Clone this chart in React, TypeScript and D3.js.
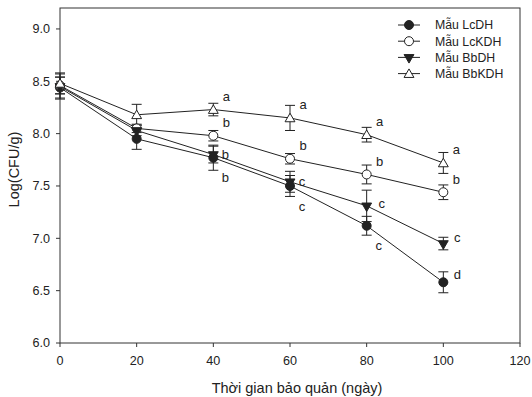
import * as d3 from 'd3'

// storage days
const days = [0, 20, 40, 60, 80, 100]

const seriesNames = ['Mẫu LcDH', 'Mẫu LcKDH', 'Mẫu BbDH', 'Mẫu BbKDH']

const lcDH = [8.44, 7.95, 7.77, 7.5, 7.12, 6.58]
const lcKDH = [8.46, 8.05, 7.98, 7.76, 7.61, 7.44]
const bbDH = [8.45, 8.03, 7.8, 7.54, 7.31, 6.95]
const bbKDH = [8.48, 8.18, 8.23, 8.15, 7.99, 7.72]

const lcDHErr = [0.1, 0.1, 0.12, 0.1, 0.09, 0.1]
const lcKDHErr = [0.08, 0.04, 0.05, 0.05, 0.09, 0.07]
const bbDHErr = [0.12, 0.05, 0.08, 0.1, 0.15, 0.06]
const bbKDHErr = [0.1, 0.1, 0.06, 0.12, 0.07, 0.1]

// significance letters (day 0 and 20 unlabelled)
const lcDHLetters = ['', '', 'b', 'c', 'c', 'd']
const lcKDHLetters = ['', '', 'b', 'b', 'b', 'b']
const bbDHLetters = ['', '', 'b', 'c', 'c', 'c']
const bbKDHLetters = ['', '', 'a', 'a', 'a', 'a']

const xTicks = [0, 20, 40, 60, 80, 100, 120]
const yTicks = [6.0, 6.5, 7.0, 7.5, 8.0, 8.5, 9.0]

const width = 532
const height = 397
const marginTop = 8
const marginRight = 12
const marginBottom = 54
const marginLeft = 60

const font = 'Liberation Sans, Arial, sans-serif'
const ink = '#222'

type Marker = 'filledCircle' | 'openCircle' | 'filledDown' | 'openUp'

const series: {
    name: string
    values: number[]
    errors: number[]
    letters: string[]
    marker: Marker
}[] = [
    { name: seriesNames[0], values: lcDH, errors: lcDHErr, letters: lcDHLetters, marker: 'filledCircle' },
    { name: seriesNames[1], values: lcKDH, errors: lcKDHErr, letters: lcKDHLetters, marker: 'openCircle' },
    { name: seriesNames[2], values: bbDH, errors: bbDHErr, letters: bbDHLetters, marker: 'filledDown' },
    { name: seriesNames[3], values: bbKDH, errors: bbKDHErr, letters: bbKDHLetters, marker: 'openUp' },
]

// letter offsets from the point, per series (below for the lowest curve)
const letterOffset = (si: number, di: number): [number, number] => {
    if (si === 0) return di === 5 ? [14, -8] : [12, 20]
    if (si === 2) return di === 5 ? [14, -6] : di === 4 ? [15, -2] : [12, 0]
    return [13, -13]
}

function MarkerShape({ type, x, y }: { type: Marker; x: number; y: number }) {
    const sym = d3.symbol().size(42)
    if (type === 'filledCircle')
        return <circle cx={x} cy={y} r={4.5} fill={ink} stroke={ink} strokeWidth={1} />
    if (type === 'openCircle')
        return <circle cx={x} cy={y} r={4.5} fill="#fff" stroke={ink} strokeWidth={1} />
    if (type === 'filledDown')
        return (
            <path
                d={sym.type(d3.symbolTriangle)() ?? undefined}
                transform={`translate(${x},${y}) rotate(180)`}
                fill={ink}
                stroke={ink}
            />
        )
    return (
        <path
            d={sym.type(d3.symbolTriangle)() ?? undefined}
            transform={`translate(${x},${y + 1})`}
            fill="#fff"
            stroke={ink}
        />
    )
}

export default function App() {
    const x = d3
        .scaleLinear()
        .domain([0, 120])
        .range([marginLeft, width - marginRight])
    const y = d3
        .scaleLinear()
        .domain([6, 9.2])
        .range([height - marginBottom, marginTop])

    const line = d3
        .line<number>()
        .x((_, i) => x(days[i]))
        .y((d) => y(d))

    const legendX = 398
    const legendY = 25

    return (
        <svg
            width={width}
            height={height}
            style={{ position: 'absolute', left: 0, top: 0, background: '#fff' }}
            fontFamily={font}
        >
            {/* frame */}
            <rect
                x={marginLeft}
                y={marginTop}
                width={width - marginLeft - marginRight}
                height={height - marginTop - marginBottom}
                fill="none"
                stroke="#333"
                strokeWidth={1}
            />

            {/* y ticks */}
            {yTicks.map((t) => (
                <g key={t}>
                    <line x1={marginLeft - 4} x2={marginLeft} y1={y(t)} y2={y(t)} stroke="#333" />
                    <text
                        x={marginLeft - 10}
                        y={y(t)}
                        dy="0.35em"
                        textAnchor="end"
                        fontSize={12.6}
                        fill={ink}
                    >
                        {t.toFixed(1)}
                    </text>
                </g>
            ))}

            {/* x ticks */}
            {xTicks.map((t) => (
                <g key={t}>
                    <line
                        x1={x(t)}
                        x2={x(t)}
                        y1={height - marginBottom}
                        y2={height - marginBottom + 4}
                        stroke="#333"
                    />
                    <text
                        x={x(t)}
                        y={height - marginBottom + 18}
                        dy="0.35em"
                        textAnchor="middle"
                        fontSize={12.6}
                        fill={ink}
                    >
                        {t}
                    </text>
                </g>
            ))}

            <text
                x={297}
                y={height - 9}
                dy="0.35em"
                textAnchor="middle"
                fontSize={14.5}
                fill={ink}
            >
                Thời gian bảo quản (ngày)
            </text>
            <text
                transform={`translate(14,${(marginTop + height - marginBottom) / 2 - 6}) rotate(-90)`}
                dy="0.35em"
                textAnchor="middle"
                fontSize={14.5}
                fill={ink}
            >
                Log(CFU/g)
            </text>

            {/* lines */}
            {series.map((s) => (
                <path key={s.name} d={line(s.values) ?? undefined} fill="none" stroke={ink} strokeWidth={1} />
            ))}

            {/* error bars */}
            {series.map((s) =>
                s.values.map((v, i) => {
                    const cx = x(days[i])
                    const top = y(v + s.errors[i])
                    const bot = y(v - s.errors[i])
                    return (
                        <g key={`${s.name}-e-${i}`} stroke={ink} strokeWidth={1}>
                            <line x1={cx} x2={cx} y1={top} y2={bot} />
                            <line x1={cx - 5} x2={cx + 5} y1={top} y2={top} />
                            <line x1={cx - 5} x2={cx + 5} y1={bot} y2={bot} />
                        </g>
                    )
                }),
            )}

            {/* markers */}
            {series.map((s) =>
                s.values.map((v, i) => (
                    <MarkerShape key={`${s.name}-m-${i}`} type={s.marker} x={x(days[i])} y={y(v)} />
                )),
            )}

            {/* letters */}
            {series.map((s, si) =>
                s.letters.map((l, i) => {
                    if (!l) return null
                    const [dx, dy] = letterOffset(si, i)
                    return (
                        <text
                            key={`${s.name}-l-${i}`}
                            x={x(days[i]) + dx}
                            y={y(s.values[i]) + dy}
                            dy="0.35em"
                            textAnchor="middle"
                            fontSize={13}
                            fill={ink}
                        >
                            {l}
                        </text>
                    )
                }),
            )}

            {/* legend */}
            {series.map((s, i) => {
                const ly = legendY + i * 16.2
                return (
                    <g key={`leg-${s.name}`}>
                        <line x1={legendX} x2={legendX + 22} y1={ly} y2={ly} stroke={ink} />
                        <MarkerShape type={s.marker} x={legendX + 11} y={ly} />
                        <text x={legendX + 37} y={ly} dy="0.35em" fontSize={12.3} fill={ink}>
                            {s.name}
                        </text>
                    </g>
                )
            })}
        </svg>
    )
}
